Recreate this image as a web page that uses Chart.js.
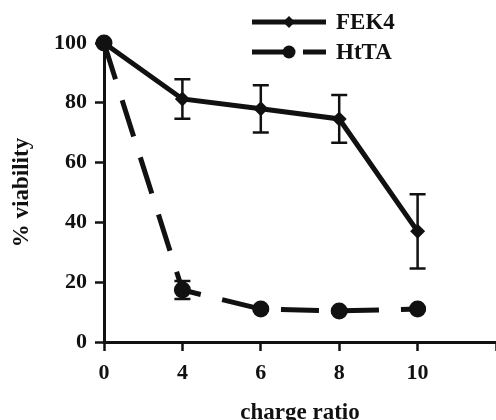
<!DOCTYPE html>
<html>
<head>
<meta charset="utf-8">
<script src="https://cdn.jsdelivr.net/npm/chart.js@4.4.1/dist/chart.umd.min.js"></script>
<style>
  html, body { margin: 0; padding: 0; background: #fff; }
  #wrap { width: 496px; height: 420px; }
</style>
</head>
<body>
<div id="wrap"><canvas id="chart"></canvas></div>
<script>
// ── Data ────────────────────────────────────────────────────────────────
const ratios  = ['0', '4', '6', '8', '10', ''];
const fek4    = [100, 81.3, 78, 74.6, 37, null];
const fek4Err = [0, 6.6, 7.9, 8, 12.4, null];
const htta    = [100, 17.4, 11, 10.4, 11, null];
const httaErr = [0, 3, 0.5, 0.5, 0.5, null];

const INK = '#111';
const SERIF = '"Liberation Serif", "Times New Roman", serif';

// ── Error bars drawn through the y scale ────────────────────────────────
const errorBars = {
    id: 'errorBars',
    afterDatasetsDraw(chart) {
        const ctx = chart.ctx;
        const y = chart.scales.y;
        chart.data.datasets.forEach((ds, i) => {
            if (!ds.errors) return;
            const meta = chart.getDatasetMeta(i);
            ctx.save();
            ctx.strokeStyle = INK;
            ctx.lineWidth = 2.5;
            ds.data.forEach((v, j) => {
                const e = ds.errors[j];
                if (v == null || !e) return;
                const x = meta.data[j].x;
                const top = y.getPixelForValue(v + e);
                const bot = y.getPixelForValue(v - e);
                ctx.beginPath();
                ctx.moveTo(x, top); ctx.lineTo(x, bot);
                ctx.moveTo(x - 8, top); ctx.lineTo(x + 8, top);
                ctx.moveTo(x - 8, bot); ctx.lineTo(x + 8, bot);
                ctx.stroke();
            });
            ctx.restore();
        });
    }
};

// ── Legend: line + marker + label, like the figure ──────────────────────
const lineLegend = {
    id: 'lineLegend',
    afterDraw(chart) {
        const ctx = chart.ctx;
        const rows = [
            { label: 'FEK4', style: 'diamond', dash: [], y: 22 },
            { label: 'HtTA', style: 'circle', dash: [37, 14], y: 52 }
        ];
        ctx.save();
        rows.forEach(r => {
            ctx.strokeStyle = INK;
            ctx.fillStyle = INK;
            ctx.lineWidth = 5;
            ctx.setLineDash(r.dash);
            ctx.beginPath();
            ctx.moveTo(252, r.y); ctx.lineTo(326, r.y);
            ctx.stroke();
            ctx.setLineDash([]);
            ctx.beginPath();
            if (r.style === 'diamond') {
                ctx.moveTo(289 - 6, r.y); ctx.lineTo(289, r.y - 6);
                ctx.lineTo(289 + 6, r.y); ctx.lineTo(289, r.y + 6);
                ctx.closePath();
            } else {
                ctx.arc(289, r.y, 6.5, 0, Math.PI * 2);
            }
            ctx.fill();
            ctx.font = 'bold 23px ' + SERIF;
            ctx.textBaseline = 'middle';
            ctx.fillText(r.label, 336, r.y + 1);
        });
        ctx.restore();
    }
};

new Chart(document.getElementById('chart'), {
    type: 'line',
    data: {
        labels: ratios,
        datasets: [
            {
                label: 'FEK4',
                data: fek4,
                errors: fek4Err,
                borderColor: INK,
                backgroundColor: INK,
                borderWidth: 5,
                pointStyle: 'rectRot',
                pointRadius: 7.5,
                pointBorderWidth: 0,
                tension: 0,
                clip: false
            },
            {
                label: 'HtTA',
                data: htta,
                errors: httaErr,
                borderColor: INK,
                backgroundColor: INK,
                borderWidth: 5,
                borderDash: [38, 22],
                pointStyle: 'circle',
                pointRadius: 8.5,
                pointBorderWidth: 0,
                tension: 0,
                clip: false
            }
        ]
    },
    options: {
        responsive: true,
        maintainAspectRatio: false,
        animation: false,
        layout: { autoPadding: false, padding: { top: 43, right: 0, left: 0, bottom: 0 } },
        plugins: {
            legend: { display: false },
            tooltip: { enabled: false }
        },
        scales: {
            x: {
                type: 'category',
                offset: false,
                afterFit: s => { s.height = 78; s.paddingLeft = 0; s.paddingRight = 0; },
                border: { display: true, color: INK, width: 3 },
                grid: { drawOnChartArea: false, offset: false, tickLength: 9, tickWidth: 2.5, tickColor: INK },
                ticks: {
                    autoSkip: false, maxRotation: 0, padding: 9,
                    color: INK, font: { family: SERIF, size: 22, weight: 'bold' }
                },
                title: {
                    display: true, text: 'charge ratio', color: INK,
                    font: { family: SERIF, size: 23, weight: 'bold' },
                    padding: { top: 0, bottom: -7 }
                }
            },
            y: {
                min: 0, max: 100,
                afterFit: s => { s.width = 104; },
                border: { display: true, color: INK, width: 3 },
                grid: { drawOnChartArea: false, tickLength: 9, tickWidth: 2.5, tickColor: INK },
                ticks: {
                    stepSize: 20, padding: 8,
                    color: INK, font: { family: SERIF, size: 22, weight: 'bold' }
                },
                title: {
                    display: true, text: '% viability', color: INK,
                    font: { family: SERIF, size: 23, weight: 'bold' },
                    padding: { top: 8, bottom: 0 }
                }
            }
        }
    },
    plugins: [errorBars, lineLegend]
});
</script>
</body>
</html>
